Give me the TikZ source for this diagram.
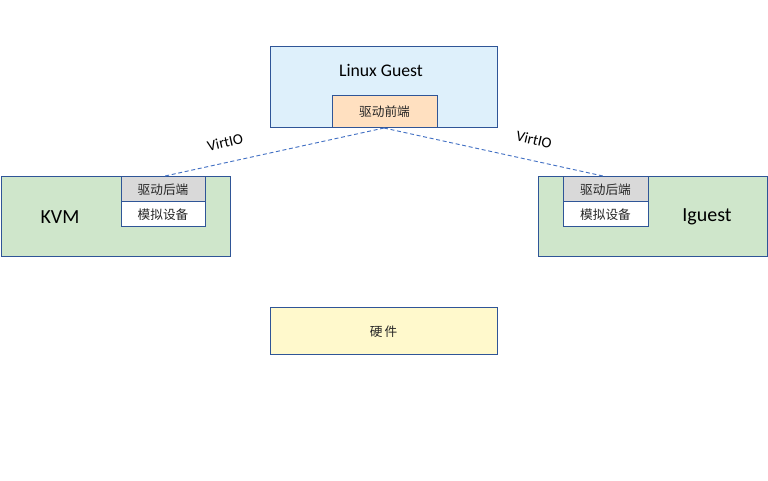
\documentclass[tikz,border=0pt]{standalone}
\usepackage{fontspec}
\setmainfont{Carlito}
\newfontfamily\cjk{Noto Sans CJK SC}
\definecolor{bord}{HTML}{2F5597}
\definecolor{guestfill}{HTML}{DEF0FB}
\definecolor{frontfill}{HTML}{FFE0C0}
\definecolor{hostfill}{HTML}{CFE6CB}
\definecolor{backfill}{HTML}{D9D9D9}
\definecolor{hwfill}{HTML}{FFF9CC}
\definecolor{link}{HTML}{4472C4}
\begin{document}
\begin{tikzpicture}[x=0.75pt,y=-0.75pt,
  box/.style={draw=bord,line width=0.65pt},
  cn/.style={font=\cjk\fontsize{9.5}{11}\selectfont,text=black!85},
  vio/.style={draw=link,line width=0.7pt,dash pattern=on 3pt off 2pt}]
\useasboundingbox (0,0) rectangle (768,480);
% Linux Guest
\draw[box,fill=guestfill] (270,46) rectangle (497,127);
\node[font=\fontsize{13.3}{15}\selectfont] (lg) at (381,70.5) {Linux Guest};
\draw[box,fill=frontfill] (332,95) rectangle (437,127);
\node[cn] (fe) at (384.5,112) {驱动前端};
\coordinate (feb) at (384,128);
% KVM
\draw[box,fill=hostfill] (1,176) rectangle (230,256);
\node[font=\fontsize{15}{17}\selectfont] (kvm) at (60,217) {KVM};
\draw[box,fill=backfill] (121,176) rectangle (205,201);
\node[cn] (kb) at (163,190) {驱动后端};
\draw[box,fill=white] (121,201) rectangle (205,226);
\node[cn] (kd) at (163,215) {模拟设备};
\coordinate (kbt) at (165,176);
% Iguest
\draw[box,fill=hostfill] (538,176) rectangle (767,256);
\node[font=\fontsize{15}{17}\selectfont] (ig) at (707,216.5) {Iguest};
\draw[box,fill=backfill] (563,176) rectangle (648,201);
\node[cn] (ib) at (605.5,190) {驱动后端};
\draw[box,fill=white] (563,201) rectangle (648,226);
\node[cn] (id) at (605.5,215) {模拟设备};
\coordinate (ibt) at (603,176);
% hardware
\draw[box,fill=hwfill] (270,307) rectangle (497,354);
\node[cn] (hw) at (383.5,332) {硬\,件};
% links
\draw[vio] (feb) -- (kbt);
\draw[vio] (feb) -- (ibt);
\node[font=\fontsize{11.3}{13}\selectfont,rotate=13] (v1) at (225,142) {VirtIO};
\node[font=\fontsize{11.3}{13}\selectfont,rotate=-13] (v2) at (534,140) {VirtIO};
\end{tikzpicture}
\end{document}
